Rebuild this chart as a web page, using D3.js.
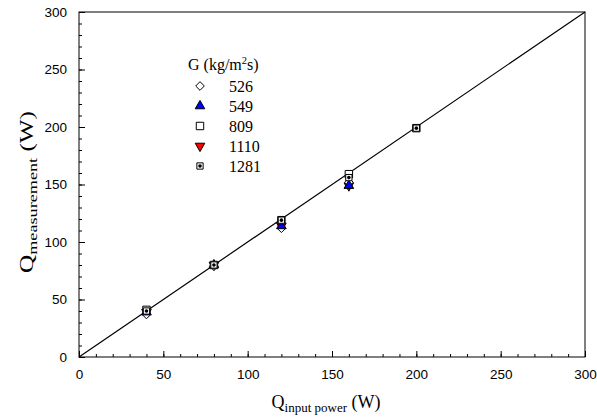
<!DOCTYPE html>
<html><head><meta charset="utf-8">
<script src="https://cdn.jsdelivr.net/npm/d3@7"></script>
<style>body{margin:0;background:#fff}svg{display:block}
.serif{font-family:'Liberation Serif','Times New Roman','DejaVu Serif',serif}
.sans{font-family:'Liberation Sans',Arial,sans-serif}</style>
</head><body>
<script>
const xTicks = [0,50,100,150,200,250,300];
const yTicks = [0,50,100,150,200,250,300];
const seriesNames = ["526","549","809","1110","1281"];
const x526 = [40,80,120,160];   const y526 = [37,79,112,152];
const x549 = [40,80,120,160];   const y549 = [39,80,114,149];
const x809 = [40,80,120,160,200]; const y809 = [41,80,119,159,199];
const x1110 = [40,80,120,160];  const y1110 = [39,80,114,149];
const x1281 = [40,80,120,160,200]; const y1281 = [40,80,119,156,199];
const lineX = [0,300];
const drawOrder = ["1110","526","549","809","1281"];

const W=597,H=419;
const m={l:79,r:12,t:12,b:62};
const svg=d3.select("body").append("svg").attr("width",W).attr("height",H);
const x=d3.scaleLinear().domain([0,300]).range([m.l,W-m.r]);
const y=d3.scaleLinear().domain([0,300]).range([H-m.b,m.t]);

svg.append("rect").attr("x",x(0)).attr("y",y(300)).attr("width",x(300)-x(0)).attr("height",y(0)-y(300))
  .attr("fill","none").attr("stroke","#000").attr("stroke-width",1);

const xa=svg.append("g").attr("transform",`translate(0,${y(0)})`)
  .call(d3.axisBottom(x).tickValues(xTicks).tickSize(-6).tickPadding(12).tickFormat(d3.format("d")));
const xm=svg.append("g").attr("transform",`translate(0,${y(0)})`)
  .call(d3.axisBottom(x).tickValues(d3.range(0,301,10)).tickSize(-3).tickFormat(""));
const ya=svg.append("g").attr("transform",`translate(${x(0)},0)`)
  .call(d3.axisLeft(y).tickValues(yTicks).tickSize(-6).tickPadding(12).tickFormat(d3.format("d")));
const ym=svg.append("g").attr("transform",`translate(${x(0)},0)`)
  .call(d3.axisLeft(y).tickValues(d3.range(0,301,10)).tickSize(-3).tickFormat(""));
[xa,xm,ya,ym].forEach(g=>{g.select(".domain").remove();g.selectAll("line").attr("stroke","#000");});
[xa,ya].forEach(g=>{g.attr("font-family",null).attr("font-size",null).attr("class","sans");
  g.selectAll("text").attr("class","sans").style("font-size","13.5px").attr("fill","#000");});

svg.append("line").attr("x1",x(lineX[0])).attr("y1",y(lineX[0])).attr("x2",x(lineX[1])).attr("y2",y(lineX[1]))
  .attr("stroke","#000").attr("stroke-width",1.2);

const sym={
  "526":{type:d3.symbolDiamond2,size:48,fill:"#fff",stroke:"#000"},
  "549":{type:d3.symbolTriangle,size:40,fill:"#0000ff",stroke:"#000"},
  "809":{type:d3.symbolSquare2,size:70,fill:"#fff",stroke:"#000"},
  "1110":{type:d3.symbolTriangle,size:40,fill:"#ff0000",stroke:"#000",rot:180},
  "1281":{type:d3.symbolSquare2,size:50,fill:"#fff",stroke:"#000",dot:true}
};
const data={"526":[x526,y526],"549":[x549,y549],"809":[x809,y809],"1110":[x1110,y1110],"1281":[x1281,y1281]};

function drawMarker(g,name,cx,cy){
  const s=sym[name];
  const p=d3.symbol().type(s.type).size(s.size)();
  g.append("path").attr("d",p).attr("transform",`translate(${cx},${cy}) rotate(${s.rot||0})`)
    .attr("fill",s.fill).attr("stroke",s.stroke).attr("stroke-width",1);
  if(s.dot) g.append("circle").attr("cx",cx).attr("cy",cy).attr("r",1.8).attr("fill","#000");
}
const pts=svg.append("g");
drawOrder.forEach(n=>{
  const [xs,ys]=data[n];
  xs.forEach((v,i)=>drawMarker(pts,n,x(v),y(ys[i])));
});

const lg=svg.append("g").attr("class","serif").style("font-size","16px");
const tt=lg.append("text").attr("x",188).attr("y",70);
tt.append("tspan").text("G (kg/m");
tt.append("tspan").style("font-size","10.5px").attr("dy",-6).text("2");
tt.append("tspan").attr("dy",6).text("s)");
seriesNames.forEach((n,i)=>{
  const cy=86+i*20;
  drawMarker(lg,n,200,cy);
  lg.append("text").attr("x",229).attr("y",cy+5.5).text(n);
});

const xt=svg.append("text").attr("class","serif").attr("x",326).attr("y",408).attr("text-anchor","middle").style("font-size","18px");
xt.append("tspan").text("Q");
xt.append("tspan").style("font-size","13px").attr("dy",4).text("input power");
xt.append("tspan").attr("dy",-4).text(" (W)");
const yt=svg.append("text").attr("class","serif").attr("transform",`translate(33,192) rotate(-90) scale(1.4,1)`).attr("text-anchor","middle").style("font-size","18px");
yt.append("tspan").text("Q");
yt.append("tspan").style("font-size","13px").attr("dy",4).text("measurement");
yt.append("tspan").attr("dy",-4).text(" (W)");
</script>
</body></html>
